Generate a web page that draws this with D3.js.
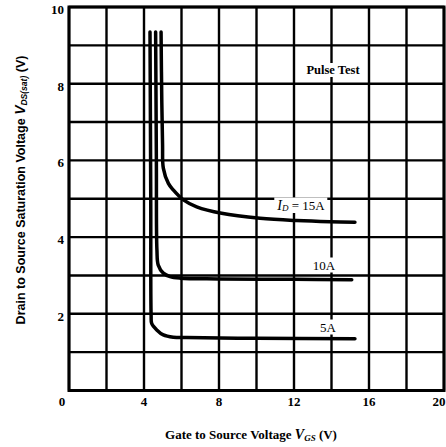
<!DOCTYPE html>
<html>
<head>
<meta charset="utf-8">
<script src="https://cdn.jsdelivr.net/npm/d3@7"></script>
<style>
	body { margin: 0; background: #ffffff; }
	svg { display: block; }
</style>
</head>
<body>
<div id="chart"></div>
<script>
const svg_dimensions = {
	width: 446,
	height: 447,
};
const plot = {
	left: 69,
	right: 444,
	top: 7,
	bottom: 390.5,
};

// Axis ticks
const x_ticks = [0, 4, 8, 12, 16, 20];
const y_ticks = [2, 4, 6, 8, 10];
const x_grid = [0, 2, 4, 6, 8, 10, 12, 14, 16, 18, 20];
const y_grid = [0, 1, 2, 3, 4, 5, 6, 7, 8, 9, 10];

// Curves: V_GS (V) against V_DS(sat) (V)
const curve_names = ["15A", "10A", "5A"];
const vgs_15a = [4.91, 4.95, 4.99, 5.03, 5.30, 5.56, 6.10, 6.81, 8.14, 10.19, 12.14, 13.92, 15.25];
const vds_15a = [9.35, 7.50, 6.40, 5.80, 5.40, 5.23, 4.97, 4.79, 4.62, 4.49, 4.43, 4.40, 4.39];
const vgs_10a = [4.62, 4.66, 4.69, 4.76, 5.03, 5.39, 5.92, 8.00, 12.00, 15.08];
const vds_10a = [9.35, 6.00, 3.66, 3.27, 3.06, 2.97, 2.93, 2.91, 2.90, 2.89];
const vgs_5a = [4.32, 4.36, 4.38, 4.41, 4.68, 5.03, 5.56, 6.28, 10.00, 15.25];
const vds_5a = [9.35, 5.00, 1.95, 1.75, 1.58, 1.45, 1.39, 1.38, 1.36, 1.35];

const curves = [
	{name: curve_names[0], points: vgs_15a.map((v, i) => [v, vds_15a[i]])},
	{name: curve_names[1], points: vgs_10a.map((v, i) => [v, vds_10a[i]])},
	{name: curve_names[2], points: vgs_5a.map((v, i) => [v, vds_5a[i]])},
];

const serif = "'Liberation Serif', 'DejaVu Serif', serif";
const sans = "'Liberation Sans', Arial, sans-serif";

const svg = d3.select("#chart")
	.append("svg")
		.attr("width", svg_dimensions.width)
		.attr("height", svg_dimensions.height);

const x = d3.scaleLinear().domain([0, 20]).range([plot.left, plot.right]);
const y = d3.scaleLinear().domain([0, 10]).range([plot.bottom, plot.top]);

// Grid
const grid = svg.append("g").attr("stroke", "#000000");
grid.selectAll("line.v")
	.data(x_grid)
	.join("line")
		.attr("class", "v")
		.attr("x1", d => x(d))
		.attr("x2", d => x(d))
		.attr("y1", y(0))
		.attr("y2", y(10))
		.attr("stroke-width", 2.4);
grid.selectAll("line.h")
	.data(y_grid)
	.join("line")
		.attr("class", "h")
		.attr("x1", x(0))
		.attr("x2", x(20))
		.attr("y1", d => y(d))
		.attr("y2", d => y(d))
		.attr("stroke-width", 2.4);
svg.append("rect")
	.attr("x", x(0))
	.attr("y", y(10))
	.attr("width", x(20) - x(0))
	.attr("height", y(0) - y(10))
	.attr("fill", "none")
	.attr("stroke", "#000000")
	.attr("stroke-width", 3);

// Tick labels
svg.append("g")
	.selectAll("text")
	.data(x_ticks)
	.join("text")
		.attr("x", d => x(d) + (d == 0 ? -7 : d == 20 ? -5 : 0))
		.attr("y", 406)
		.attr("text-anchor", "middle")
		.attr("font-family", serif)
		.attr("font-weight", "bold")
		.attr("font-size", 13)
		.text(d => d);
svg.append("g")
	.selectAll("text")
	.data(y_ticks)
	.join("text")
		.attr("x", 64)
		.attr("y", d => y(d) + 7)
		.attr("text-anchor", "end")
		.attr("font-family", serif)
		.attr("font-weight", "bold")
		.attr("font-size", 13)
		.text(d => d);

// Curves
const line = d3.line()
	.x(d => x(d[0]))
	.y(d => y(d[1]))
	.curve(d3.curveCatmullRom.alpha(0.5));
svg.append("g")
	.selectAll("path")
	.data(curves)
	.join("path")
		.attr("d", d => line(d.points))
		.attr("fill", "none")
		.attr("stroke", "#000000")
		.attr("stroke-width", 3.5)
		.attr("stroke-linecap", "round");

// Labels with white boxes behind them
function boxed_label(cx, cy, build) {
	const g = svg.append("g");
	const rect = g.append("rect").attr("fill", "#ffffff");
	const text = g.append("text")
		.attr("x", cx)
		.attr("y", cy)
		.attr("text-anchor", "middle")
		.attr("dominant-baseline", "central")
		.attr("font-family", serif)
		.attr("font-size", 13);
	build(text);
	const box = text.node().getBBox();
	rect.attr("x", box.x - 2)
		.attr("y", box.y)
		.attr("width", box.width + 4)
		.attr("height", box.height);
}

boxed_label(333, 70, t => t.attr("font-weight", "bold").attr("font-size", 12.5).text("Pulse Test"));
boxed_label(301, 205, t => {
	t.append("tspan").attr("font-style", "italic").attr("font-size", 14).text("I");
	t.append("tspan").attr("font-style", "italic").attr("font-size", 9).attr("dy", 3).text("D");
	t.append("tspan").attr("dy", -3).text(" = " + curve_names[0]);
});
boxed_label(324, 265, t => t.text(curve_names[1]));
boxed_label(328, 327, t => t.text(curve_names[2]));

// Axis titles
const x_title = svg.append("text")
	.attr("x", 251)
	.attr("y", 439)
	.attr("text-anchor", "middle")
	.attr("font-family", serif)
	.attr("font-weight", "bold")
	.attr("font-size", 13);
x_title.append("tspan").text("Gate to Source Voltage ");
x_title.append("tspan").attr("font-style", "italic").attr("font-size", 14).text("V");
x_title.append("tspan").attr("font-style", "italic").attr("font-size", 9).attr("dy", 2).text("GS");
x_title.append("tspan").attr("dy", -2).text("  (V)");

const y_title = svg.append("text")
	.attr("transform", "translate(25," + 190 + ") rotate(-90)")
	.attr("text-anchor", "middle")
	.attr("font-family", sans)
	.attr("font-weight", "bold")
	.attr("font-size", 12.5);
y_title.append("tspan").text("Drain to Source Saturation Voltage  ");
y_title.append("tspan").attr("font-style", "italic").attr("font-size", 14).text("V");
y_title.append("tspan").attr("font-style", "italic").attr("font-size", 8.5).attr("dy", 2).text("DS(sat)");
y_title.append("tspan").attr("dy", -2).text("  (V)");
</script>
</body>
</html>
